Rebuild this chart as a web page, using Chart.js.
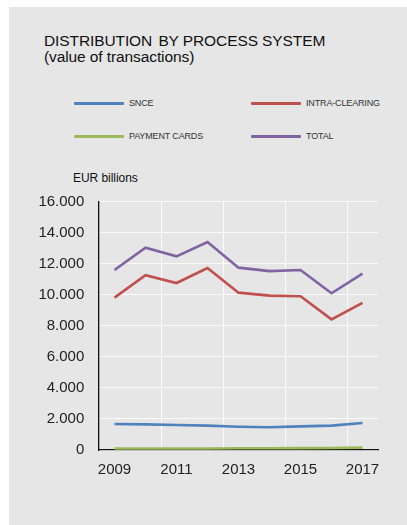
<!DOCTYPE html>
<html>
<head>
<meta charset="utf-8">
<title>Distribution by process system</title>
<script src="https://cdn.jsdelivr.net/npm/chart.js@4.4.0/dist/chart.umd.min.js"></script>
<style>
  html, body { margin: 0; padding: 0; background: #fff; }
  body { width: 407px; height: 525px; position: relative; overflow: hidden;
         font-family: "Liberation Sans", Arial, Helvetica, sans-serif; }
  #panel { position: absolute; left: 9px; top: 7px; width: 398px; height: 518px; background: #e6e6e6; }
  #title { position: absolute; left: 44px; top: 32.6px; font-size: 15.5px; line-height: 16px;
           letter-spacing: -0.1px; color: #111; }
  #title .gap { display: inline-block; width: 2px; }
  .lg-line { position: absolute; width: 50px; height: 2.6px; border-radius: 1px; }
  .lg-text { position: absolute; font-size: 9px; line-height: 9px; letter-spacing: -0.15px; color: #333; }
  #unit { position: absolute; left: 73px; top: 171.5px; font-size: 12px; line-height: 12px;
          letter-spacing: -0.05px; color: #111; }
  #chart { position: absolute; left: 0; top: 0; }
</style>
</head>
<body>
<div id="panel"></div>
<div id="title">DISTRIBUTION<span class="gap"></span> BY PROCESS SYSTEM<br>(value of transactions)</div>
<div id="legend"></div>
<div id="unit">EUR billions</div>
<canvas id="chart" width="407" height="525"></canvas>

<script>
// years on the x axis
var years = ['2009', '2010', '2011', '2012', '2013', '2014', '2015', '2016', '2017'];

// values in EUR billions
var snce = [1670, 1650, 1610, 1570, 1500, 1460, 1520, 1570, 1740];
var intraClearing = [9810, 11250, 10750, 11720, 10130, 9940, 9900, 8410, 9470];
var paymentCards = [100, 100, 100, 100, 110, 115, 120, 130, 150];
var total = [11590, 13030, 12470, 13390, 11740, 11520, 11590, 10090, 11360];

var yTicks = [0, 2000, 4000, 6000, 8000, 10000, 12000, 14000, 16000];

var series = [
    { label: 'SNCE', data: snce, color: '#4f81bd' },
    { label: 'INTRA-CLEARING', data: intraClearing, color: '#c0504d' },
    { label: 'PAYMENT CARDS', data: paymentCards, color: '#9bbb59' },
    { label: 'TOTAL', data: total, color: '#8064a2' }
];

/** legend, two columns **/
var legend = document.getElementById('legend');
series.forEach(function (s, i) {
    var col = i % 2, row = Math.floor(i / 2);
    var lx = col === 0 ? 74 : 251;
    var ly = row === 0 ? 103.7 : 136.3;
    var line = document.createElement('div');
    line.className = 'lg-line';
    line.style.left = lx + 'px';
    line.style.top = (ly - 1.3) + 'px';
    line.style.background = s.color;
    legend.appendChild(line);
    var txt = document.createElement('div');
    txt.className = 'lg-text';
    txt.style.left = (lx + 55) + 'px';
    txt.style.top = (ly - 4.4) + 'px';
    txt.textContent = s.label;
    legend.appendChild(txt);
});

function fmt(v) {
    return String(v).replace(/\B(?=(\d{3})+(?!\d))/g, '.');
}

var font = '"Liberation Sans", Arial, Helvetica, sans-serif';

var lineData = {
    labels: years,
    datasets: series.map(function (s) {
        return {
            label: s.label,
            data: s.data,
            borderColor: s.color,
            backgroundColor: s.color,
            borderWidth: 2.6,
            pointRadius: 0,
            tension: 0,
            fill: false
        };
    })
};

var lineOptions = {
    responsive: false,
    animation: false,
    devicePixelRatio: 1,
    layout: { padding: { top: 201.5, left: 9, right: 29, bottom: 25 } },
    plugins: { legend: { display: false }, tooltip: { enabled: false } },
    scales: {
        x: {
            offset: true,
            afterFit: function (scale) { scale.height = 50; },
            grid: {
                offset: true,
                drawTicks: false,
                lineWidth: 1,
                // a line at the left edge of every labelled year
                color: function (ctx) {
                    if (ctx.index === undefined || ctx.index === 0 || ctx.index % 2 === 1) return 'rgba(0,0,0,0)';
                    return 'rgba(255,255,255,0.8)';
                }
            },
            border: { color: '#111', width: 1.3 },
            ticks: {
                autoSkip: false,
                maxRotation: 0,
                padding: 11,
                color: '#222',
                font: { family: font, size: 15 },
                callback: function (v, i) { return i % 2 === 0 ? years[i] : ''; }
            }
        },
        y: {
            min: yTicks[0],
            max: yTicks[yTicks.length - 1],
            afterFit: function (scale) { scale.width = 90; },
            afterBuildTicks: function (scale) {
                scale.ticks = yTicks.map(function (v) { return { value: v }; });
            },
            grid: { drawTicks: false, color: 'rgba(255,255,255,0.8)', lineWidth: 1 },
            border: { color: '#111', width: 1.3 },
            ticks: {
                padding: 14.7,
                color: '#222',
                font: { family: font, size: 15 },
                callback: function (v) { return fmt(v); }
            }
        }
    }
};

var ctx = document.getElementById('chart').getContext('2d');
new Chart(ctx, { type: 'line', data: lineData, options: lineOptions });
</script>
</body>
</html>
